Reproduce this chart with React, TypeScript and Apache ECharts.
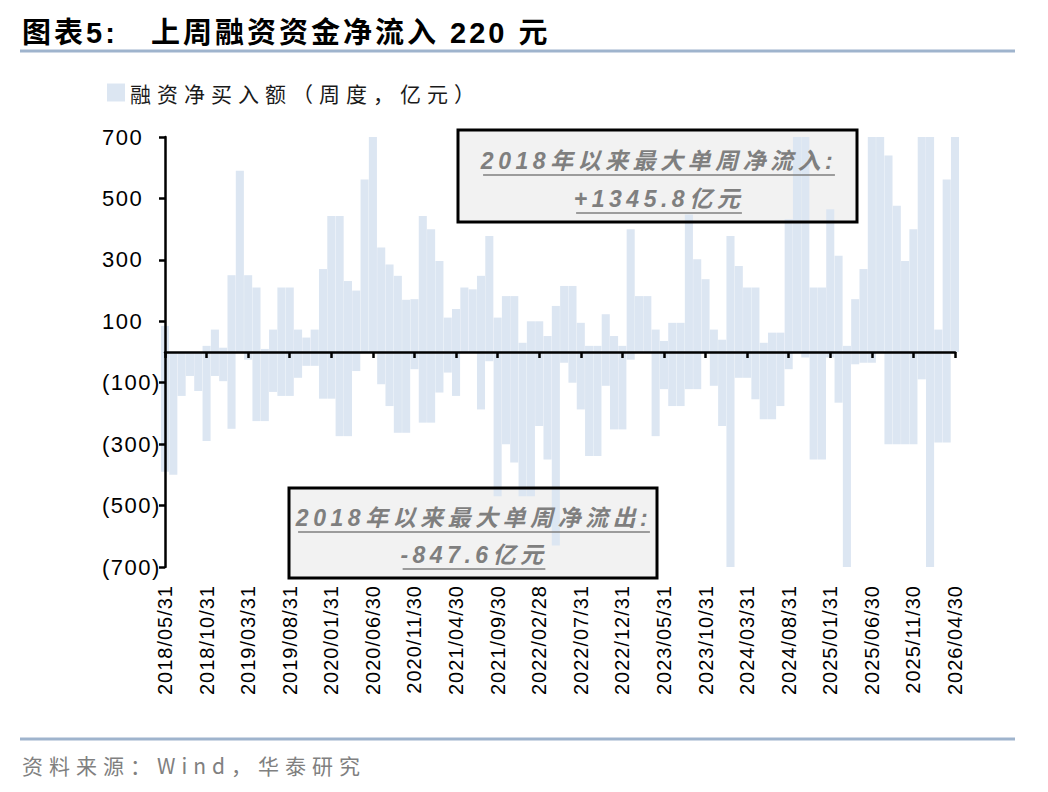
import React, { useEffect, useRef } from "react";
import * as echarts from "echarts";

// ---------------- DATA ----------------
const TITLE = "图表5:   上周融资资金净流入 220 元";
const SERIES_NAME = "融资净买入额（周度，亿元）";
const SOURCE = "资料来源：Wind，华泰研究";
const FIRST_MONTH = { year: 2018, month: 5 }; // weekly points are plotted on a monthly date axis
const MONTH_COUNT = 96;
const TICK_LABELS = [
  "2018/05/31", "2018/10/31", "2019/03/31", "2019/08/31", "2020/01/31",
  "2020/06/30", "2020/11/30", "2021/04/30", "2021/09/30", "2022/02/28",
  "2022/07/31", "2022/12/31", "2023/05/31", "2023/10/31", "2024/03/31",
  "2024/08/31", "2025/01/31", "2025/06/30", "2025/11/30", "2026/04/30",
];

// Weekly points overlap inside each month: largest weekly net inflow of the month (亿元)
const high2018 = [85, null, null, null, null, 20, 73, 14];
const high2019 = [250, 590, 250, 210, 10, 73, 210, 210, 73, 47, 73, 270];
const high2020 = [443, 443, 231, 200, 562, 720, 340, 285, 248, 170, 172, 443];
const high2021 = [400, 296, 112, 140, 210, 204, 248, 378, 112, 182, 182, 30];
const high2022 = [100, 100, 52, 150, 215, 215, 95, 20, 20, 123, 52, 20];
const high2023 = [400, 182, 182, 73, 36, 95, 95, 448, 302, 237, 73, 40];
const high2024 = [378, 280, 210, 210, 30, 63, 63, 432, 1345.8, 700, 210, 210];
const high2025 = [465, 313, 20, 172, 270, 720, 720, 640, 476, 296, 400, 720];
const high2026 = [720, 73, 562, 720];

// ...and largest weekly net outflow of the month (亿元)
const low2018 = [-390, -400, -143, -78, -127, -290, -78, -95];
const low2019 = [-250, null, -25, -225, -225, -130, -143, -143, -84, -45, -45, -152];
const low2020 = [-152, -274, -274, -62, null, null, -105, -176, -263, -263, -56, -230];
const low2021 = [-230, -132, -67, -143, null, null, -187, -30, -470, -300, -360, -470];
const low2022 = [-470, -241, -350, -630, -35, -100, -187, -339, -339, -110, -252, -252];
const low2023 = [-25, null, null, -274, -121, -176, -176, -121, -121, null, -110, -241];
const low2024 = [-847.6, -84, -84, -154, -219, -219, -176, -56, null, -18, -350, -350];
const low2025 = [-18, -165, -760, -40, -35, -35, null, -300, -300, -300, -300, -89];
const low2026 = [-720, -295, -295, null];

const MONTH_HIGH = [...high2018, ...high2019, ...high2020, ...high2021, ...high2022, ...high2023, ...high2024, ...high2025, ...high2026];
const MONTH_LOW = [...low2018, ...low2019, ...low2020, ...low2021, ...low2022, ...low2023, ...low2024, ...low2025, ...low2026];

// ---------------- HELPERS ----------------
const pad = (n: number) => (n < 10 ? "0" + n : "" + n);
const MONTH_ENDS: string[] = [];
for (let m = 0; m < MONTH_COUNT; m++) {
  const d = new Date(Date.UTC(FIRST_MONTH.year, FIRST_MONTH.month - 1 + m + 1, 0));
  MONTH_ENDS.push(`${d.getUTCFullYear()}/${pad(d.getUTCMonth() + 1)}/${pad(d.getUTCDate())}`);
}
const TICK_SET = new Set(TICK_LABELS);
const showTick = (_i: number, v: string) => TICK_SET.has(v);

const BOX_SPACING = 4.5;
const BOX_FONT = "italic bold 23px 'Liberation Sans', 'Noto Sans CJK SC', sans-serif";
function measure(text: string, font: string) {
  const c = document.createElement("canvas").getContext("2d");
  if (!c) return text.length * 20;
  c.font = font;
  return c.measureText(text).width;
}

function boxText(cx: number, cy: number, text: string) {
  const w = measure(text, BOX_FONT) + BOX_SPACING * (text.length - 1);
  return [
    {
      type: "text",
      x: cx,
      y: cy,
      z: 60,
      style: {
        text,
        font: BOX_FONT,
        fill: "#7F7F7F",
        textAlign: "center",
        textVerticalAlign: "middle",
      },
    },
    {
      type: "line",
      z: 60,
      shape: { x1: cx - w / 2, y1: cy + 14, x2: cx + w / 2, y2: cy + 14 },
      style: { stroke: "#7F7F7F", lineWidth: 1.5 },
    },
  ];
}

// letter spacing of the original typesetting, keyed on font size
const CSS = `
.hx-chart text[style*="29px"] { letter-spacing: 3px; }
.hx-chart text[style*="21px"] { letter-spacing: 6px; }
.hx-chart text[style*="23px"] { letter-spacing: ${BOX_SPACING}px; }
.hx-chart text[style*="22px"] { letter-spacing: 1.5px; }
.hx-chart text[style*="20px"] { letter-spacing: 1px; }
`;

const BAR_COLOR = "#DCE6F2";

export default function App() {
  const ref = useRef<HTMLDivElement>(null);
  useEffect(() => {
    if (!ref.current) return;
    const chart = echarts.init(ref.current, undefined, { renderer: "svg" });
    const barBase = {
      name: SERIES_NAME,
      type: "bar",
      xAxisIndex: 0,
      barGap: "-100%",
      barCategoryGap: "3%",
      clip: true,
      z: 2,
      itemStyle: { color: BAR_COLOR },
    };
    const option: any = {
      animation: false,
      backgroundColor: "#ffffff",
      textStyle: { fontFamily: "'Liberation Sans', 'Noto Sans CJK SC', sans-serif" },
      grid: { left: 165, right: 93, top: 137, bottom: 225, containLabel: false },
      legend: {
        show: true,
        left: 102,
        top: 77,
        icon: "rect",
        itemWidth: 18,
        itemHeight: 18,
        textStyle: { fontSize: 21, color: "#1a1a1a", fontFamily: "'Noto Sans CJK SC', sans-serif" },
        data: [SERIES_NAME],
      },
      xAxis: [
        {
          type: "category",
          data: MONTH_ENDS,
          boundaryGap: false,
          position: "bottom",
          axisLine: { show: false, onZero: false },
          axisTick: { show: false },
          splitLine: { show: false },
          axisLabel: {
            interval: showTick,
            rotate: 90,
            fontSize: 20,
            color: "#000",
            margin: 18,
            fontFamily: "'Liberation Sans', Arial, sans-serif",
          },
        },
        {
          type: "category",
          data: MONTH_ENDS,
          boundaryGap: false,
          position: "bottom",
          z: 10,
          axisLine: { show: true, onZero: true, lineStyle: { color: "#000", width: 2.5 } },
          axisTick: {
            show: true,
            interval: showTick,
            length: 6,
            lineStyle: { color: "#000", width: 2.5 },
          },
          axisLabel: { show: false },
          splitLine: { show: false },
        },
      ],
      yAxis: {
        type: "value",
        min: -700,
        max: 700,
        interval: 200,
        z: 10,
        axisLine: { show: true, lineStyle: { color: "#000", width: 2.5 } },
        axisTick: { show: true, length: 6, lineStyle: { color: "#000", width: 2.5 } },
        splitLine: { show: false },
        axisLabel: {
          formatter: (v: number) => (v < 0 ? `(${-v})` : `${v}`),
          fontSize: 22,
          color: "#000",
          align: "left",
          margin: 63,
          fontFamily: "'Liberation Sans', Arial, sans-serif",
        },
      },
      series: [
        { ...barBase, data: MONTH_HIGH },
        { ...barBase, data: MONTH_LOW },
      ],
      graphic: [
        {
          type: "text",
          x: 22,
          y: 33,
          style: {
            text: TITLE,
            font: "bold 29px 'Liberation Sans', 'Noto Sans CJK SC', sans-serif",
            fill: "#000",
            textVerticalAlign: "middle",
          },
        },
        {
          type: "line",
          shape: { x1: 20, y1: 51, x2: 1015, y2: 51 },
          style: { stroke: "#9FB4CD", lineWidth: 3 },
        },
        {
          type: "line",
          shape: { x1: 20, y1: 739, x2: 1015, y2: 739 },
          style: { stroke: "#9FB4CD", lineWidth: 3 },
        },
        {
          type: "text",
          x: 22,
          y: 765,
          style: {
            text: SOURCE,
            font: "21px 'Noto Sans CJK SC', sans-serif",
            fill: "#808080",
            textVerticalAlign: "middle",
          },
        },
        // box fills (behind bars)
        { type: "rect", z: 0, shape: { x: 458, y: 130, width: 399, height: 92 }, style: { fill: "#F2F2F2" } },
        { type: "rect", z: 0, shape: { x: 289, y: 488, width: 368, height: 90 }, style: { fill: "#F2F2F2" } },
        // box borders (above bars)
        { type: "rect", z: 60, shape: { x: 458, y: 130, width: 399, height: 92 }, style: { fill: "none", stroke: "#000", lineWidth: 3 } },
        { type: "rect", z: 60, shape: { x: 289, y: 488, width: 368, height: 90 }, style: { fill: "none", stroke: "#000", lineWidth: 3 } },
        ...boxText(659, 161, "2018年以来最大单周净流入:"),
        ...boxText(659, 199, "+1345.8亿元"),
        ...boxText(474, 518, "2018年以来最大单周净流出:"),
        ...boxText(474, 555, "-847.6亿元"),
      ],
    };
    chart.setOption(option);
    return () => chart.dispose();
  }, []);
  return (
    <>
      <style>{CSS}</style>
      <div
        ref={ref}
        className="hx-chart"
        style={{ position: "fixed", left: 0, top: 0, width: 1048, height: 792, background: "#fff" }}
      />
    </>
  );
}
